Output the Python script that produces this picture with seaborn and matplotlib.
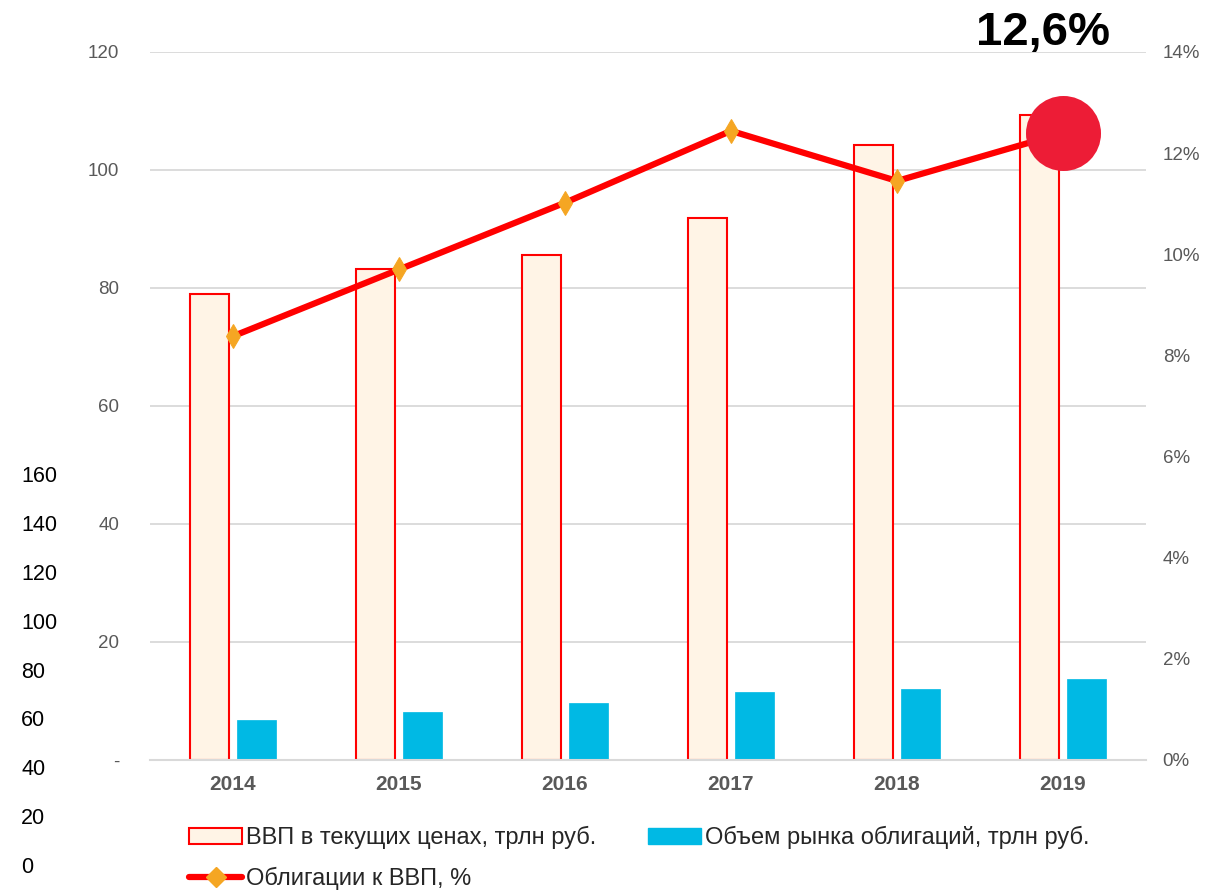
import matplotlib
matplotlib.use('Agg')
import matplotlib.pyplot as plt
from matplotlib.patches import Patch
from matplotlib.lines import Line2D
import seaborn as sns
import numpy as np
import pandas as pd

# данные графика
anos = ['2014', '2015', '2016', '2017', '2018', '2019']
vvp = [79.0, 83.2, 85.6, 91.9, 104.2, 109.3]           # трлн руб.
obligacii = [6.8, 8.2, 9.6, 11.5, 12.0, 13.7]          # трлн руб.
dolya = [8.38, 9.70, 11.02, 12.44, 11.45, 12.4]        # %
rotulo_final = '12,6%'

nome_vvp = 'ВВП в текущих ценах, трлн руб.'
nome_obl = 'Объем рынка облигаций, трлн руб.'
nome_dolya = 'Облигации к ВВП, %'

creme = '#FFF4E6'
vermelho = '#FF0000'
azul = '#00B9E4'
laranja = '#F5A623'
carmim = '#ED1C36'
cinza = '#595959'
grade = '#D9D9D9'

sns.set_theme(style='white')
plt.rcParams['font.family'] = ['Liberation Sans', 'DejaVu Sans']

df = pd.DataFrame({
    'ano': anos * 2,
    'serie': [nome_vvp] * len(anos) + [nome_obl] * len(anos),
    'valor': vvp + obligacii,
})

fig = plt.figure(figsize=(12.25, 8.91), dpi=100)
ax = fig.add_axes([150 / 1225, 131 / 891, 996 / 1225, 708 / 891])

sns.barplot(data=df, x='ano', y='valor', hue='serie',
            palette=[creme, azul], width=0.57, gap=0.19,
            saturation=1, legend=False, ax=ax, zorder=2)
for p in ax.containers[0]:
    p.set_edgecolor(vermelho)
    p.set_linewidth(1.5)
for p in ax.containers[1]:
    p.set_edgecolor(azul)
    p.set_linewidth(0.5)

ax.set_xlim(-0.5, len(anos) - 0.5)
ax.set_ylim(0, 120)
ax.set_yticks(range(0, 121, 20))
ax.set_yticklabels(['-'] + [str(v) for v in range(20, 121, 20)])
ax.yaxis.grid(True, color=grade, lw=1.3, zorder=0)
ax.set_axisbelow(True)
for s in ['left', 'right', 'top']:
    ax.spines[s].set_visible(False)
ax.spines['bottom'].set_color(grade)
ax.spines['bottom'].set_linewidth(1.5)
ax.tick_params(axis='y', length=0, pad=22, labelsize=13.5, labelcolor=cinza)
ax.tick_params(axis='x', length=0, pad=11, labelsize=15, labelcolor=cinza)
for t in ax.get_xticklabels():
    t.set_fontweight('bold')
ax.set_xlabel('')
ax.set_ylabel('')

# ось с долей облигаций
ax2 = ax.twinx()
pos = np.arange(len(anos))
sns.lineplot(x=pos, y=dolya, ax=ax2, color=vermelho, lw=4.5,
             marker='d', markersize=12, markerfacecolor=laranja,
             markeredgecolor=laranja, zorder=3)
sns.scatterplot(x=pos[-1:], y=dolya[-1:], ax=ax2, s=2500, color=carmim,
                edgecolor=carmim, zorder=4)
ax2.annotate(rotulo_final, xy=(pos[-1], dolya[-1]), xytext=(-20, 88),
             textcoords='offset pixels', ha='center', va='baseline',
             fontsize=34, fontweight='bold', color='black')
ax2.set_ylim(0, 14)
ax2.set_yticks(range(0, 15, 2))
ax2.set_yticklabels([f'{v}%' for v in range(0, 15, 2)])
ax2.tick_params(axis='y', length=0, pad=12, labelsize=13.5, labelcolor=cinza)
ax2.set_ylabel('')
for s in ax2.spines.values():
    s.set_visible(False)
ax2.set_xlim(-0.5, len(anos) - 0.5)

# лишняя шкала слева
ax3 = fig.add_axes([21 / 1225, 26 / 891, 0.0001, 391 / 891])
ax3.set_ylim(0, 160)
ax3.set_yticks(range(0, 161, 20))
ax3.yaxis.tick_right()
ax3.tick_params(axis='y', length=0, pad=0, labelsize=15.5, labelcolor='black')
ax3.set_xticks([])
for s in ax3.spines.values():
    s.set_visible(False)
ax3.patch.set_alpha(0)

handles = [
    Patch(facecolor=creme, edgecolor=vermelho, linewidth=1.5),
    Line2D([], [], color=vermelho, lw=4.5, marker='D', markersize=10,
           markerfacecolor=laranja, markeredgecolor=laranja),
    Patch(facecolor=azul, edgecolor=azul),
]
fig.legend(handles, [nome_vvp, nome_dolya, nome_obl], ncol=2,
           loc='upper left', bbox_to_anchor=(189 / 1225, 65 / 891),
           frameon=False, fontsize=17, borderpad=0, borderaxespad=0,
           handlelength=2.25, handletextpad=0.15, columnspacing=2.2,
           labelspacing=0.75)

fig.savefig('out.png', dpi=100)
